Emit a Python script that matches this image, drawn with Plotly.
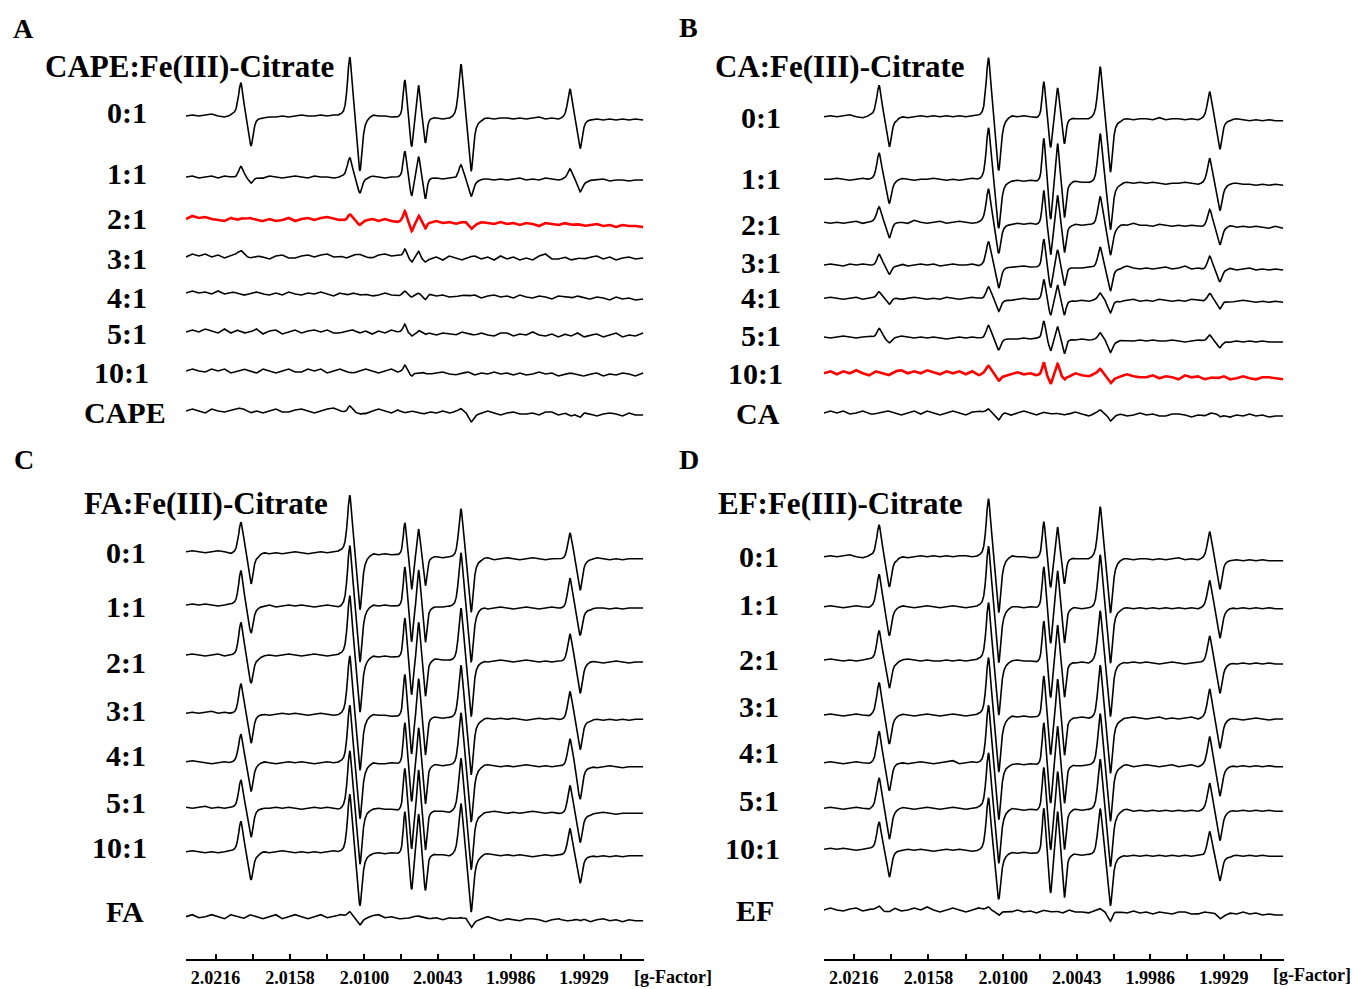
import numpy as np
import plotly.graph_objects as go

# ---------------- data ----------------
# sampling of the baseline (g-factor), left -> right
G_GRID = [2.0239, 2.0234, 2.0229, 2.0224, 2.0219, 2.0214, 2.0209, 2.0204, 2.0199, 2.0194,
          2.0189, 2.0184, 2.0179, 2.0174, 2.0169, 2.0164, 2.0159, 2.0154, 2.0149, 2.0144,
          2.0139, 2.0134, 2.0129, 2.0124, 2.0119, 2.0114, 2.0109, 2.0104, 2.0099, 2.0094,
          2.0089, 2.0084, 2.0079, 2.0074, 2.0069, 2.0064, 2.0059, 2.0054, 2.0049, 2.0044,
          2.0039, 2.0034, 2.0029, 2.0024, 2.0019, 2.0014, 2.0009, 2.0004, 1.9999, 1.9994,
          1.9989, 1.9984, 1.9979, 1.9974, 1.9969, 1.9964, 1.9959, 1.9954, 1.9949, 1.9944,
          1.9939, 1.9934, 1.9929, 1.9924, 1.9919, 1.9914, 1.9909, 1.9904, 1.9899, 1.9894,
          1.9889, 1.9883]

# six EPR lines: centre g-value and half peak-to-peak width (g units)
LINE_G = [2.01923, 2.01075, 2.00659, 2.00552, 2.00209, 1.99360]
LINE_HW = [0.00040, 0.00040, 0.00027, 0.00027, 0.00040, 0.00040]

# first-derivative line shape (offset in half-widths, normalised height)
SHAPE_U = [-3.2, -2.6, -2.2, -1.9, -1.6, -1.4, -1.25, -1.1, -1.0, -0.9, -0.75, -0.5, -0.25, 0.0,
           0.25, 0.5, 0.75, 0.9, 1.0, 1.1, 1.25, 1.45, 1.7, 2.0, 2.4, 2.9, 3.6]
SHAPE_V = [0.0, 0.03, 0.08, 0.18, 0.4, 0.62, 0.82, 0.96, 1.0, 0.97, 0.85, 0.55, 0.28, 0.0,
           -0.28, -0.55, -0.85, -0.97, -1.0, -0.96, -0.8, -0.55, -0.33, -0.18, -0.09, -0.04, 0.0]

TICK_G = [2.0216, 2.0187, 2.0158, 2.0129, 2.0100, 2.00715, 2.0043, 2.00145, 1.9986, 1.99575, 1.9929, 1.99002]
TICK_TEXT = ["2.0216", "", "2.0158", "", "2.0100", "", "2.0043", "", "1.9986", "", "1.9929", ""]

RATIOS = ["0:1", "1:1", "2:1", "3:1", "4:1", "5:1", "10:1"]

# ---- Panel A: CAPE ----
A_LABELS = RATIOS + ["CAPE"]
A_UP = [[33, 59, 36, 32, 52, 29], [11, 19, 25, 22, 15, 11], [1, 6, 9, 7, 1, 0], [4, 0, 8, 7, 0, 0],
        [0, 0, 3, 2, 0, 0], [0, 0, 7, 3, 0, 0], [0, 0, 6, 0, 0, 0], [0, 7, 0, 0, 5, 0]]
A_DN = [[30, 54, 31, 26, 54, 30], [7, 15, 19, 21, 17, 12], [0, 3, 9, 7, 6, 0], [0, 0, 5, 3, 0, 0],
        [0, 0, 2, 4, 0, 0], [0, 0, 3, 2, 0, 0], [0, 0, 4, 1, 0, 0], [0, 4, 0, 0, 9, 4]]
A_NOISE = [
    [0, 1, 0, 1, 2, 0, -1, 1, 2, -1,
     0, 0, -2, -1, -1, 0, -1, 0, 1, 0,
     0, 1, 0, 1, 1, 0, 0, -1, 0, 1,
     0, 0, -1, -1, 0, 0, 0, -1, -1, -2,
     -3, -2, -1, 0, -1, -2, -3, -2, -3, -2,
     -2, -3, -2, -3, -2, -1, -3, -2, -3, -2,
     -2, -3, -2, -3, -3, -4, -3, -4, -3, -4,
     -3, -4],
    [0, 1, -1, 0, 1, -1, 1, 0, -1, 0,
     1, 0, -1, 1, 0, -1, 0, 1, 0, -1,
     1, 0, 0, -1, 0, 1, 0, -1, 0, 1,
     0, -1, 0, 0, 1, 0, -1, -1, 0, -1,
     -2, -1, -2, -3, -2, -3, -2, -2, -3, -2,
     -3, -2, -1, -3, -2, -3, -1, -2, -3, -2,
     -3, -2, -4, -3, -3, -2, -4, -3, -3, -4,
     -3, -3],
    [0, 3, 1, 2, 0, -1, -2, 1, -1, 0,
     1, -1, -2, 0, -2, -1, 1, -2, 0, 1,
     -1, 1, 2, 0, -1, -2, -1, -3, -1, 0,
     -2, 0, -2, -3, -1, -3, -4, -2, -3, -2,
     -4, -3, -5, -4, -3, -5, -3, -4, -5, -3,
     -5, -4, -6, -4, -5, -7, -4, -5, -6, -4,
     -6, -5, -7, -6, -5, -7, -6, -8, -6, -7,
     -7, -8],
    [0, 3, 1, 3, 0, 2, -1, 1, 3, 2,
     -1, 1, 0, -2, 1, 2, -1, -1, 1, 2,
     0, 2, 3, 0, 1, -1, 2, 3, 0, -1,
     2, 3, 1, 2, 0, 0, -1, -2, -2, 0,
     -3, 1, -1, -3, 0, 1, -2, 0, -3, 1,
     -2, 0, -3, -1, -3, 1, 3, -2, -2, 0,
     -3, -1, -2, 0, 1, -2, 0, -3, -1, 0,
     -2, -1],
    [0, 2, 0, 1, -1, 2, -1, 1, 0, -2,
     -1, 1, -1, -2, 0, -2, 1, -1, -2, 0,
     -1, 1, -1, -3, 0, -2, 0, -2, -1, -3,
     -2, 0, -2, -3, -1, -2, -2, -3, -1, -3,
     -2, -4, -4, -2, -3, -2, -5, -3, -2, -4,
     -3, -5, -2, -4, -5, -3, -4, -6, -3, -4,
     -5, -3, -5, -6, -4, -5, -7, -4, -6, -5,
     -7, -6],
    [0, 2, 0, 3, 1, -1, 3, -1, 2, -1,
     0, 3, -2, 1, 2, -2, 0, 2, -1, 1,
     2, 0, 2, -1, -1, 1, 2, -1, 1, -2,
     1, -1, 2, 0, 1, -1, -2, 0, -1, -3,
     -1, -2, -3, 0, -2, -3, -1, -3, -4, -1,
     -1, -4, -2, -3, 0, -3, -4, -2, -5, -2,
     -4, -1, -5, -3, -2, -5, -3, -1, -5, -3,
     -4, -1],
    [0, 2, 0, -1, 2, 0, 2, -2, 0, 2,
     0, -2, 2, 0, -2, 0, 2, -1, -1, 2,
     0, 2, -2, 0, 2, -1, -2, 0, 2, 0,
     -2, 0, 2, -1, 0, -1, -2, -1, -3, -2,
     -1, -3, -4, -2, -1, -4, -2, -3, -1, -3,
     -2, -4, -2, -4, -3, -1, -3, -2, -5, -3,
     -2, -4, -5, -3, -2, -5, -3, -4, -2, -3,
     -5, -2],
    [0, 2, 0, -2, 2, 0, -1, 1, 3, 2,
     -2, 0, -2, 0, 2, -1, -1, 1, 2, 0,
     -2, 0, 2, 3, 0, -2, -2, 1, -2, 0,
     2, 0, -2, 1, -2, 0, -1, -3, -1, -2,
     0, -2, -1, -3, -1, -3, -2, 0, -2, -4,
     -2, -1, -3, -3, -2, -4, -1, -1, -4, -2,
     -5, -3, -1, -3, -5, -3, -2, -3, -5, -2,
     -4, -4],
]

# ---- Panel B: CA ----
B_LABELS = RATIOS + ["CA"]
B_UP = [[31, 59, 35, 30, 51, 27], [27, 52, 43, 40, 49, 26], [15, 33, 34, 30, 29, 17], [11, 23, 28, 18, 21, 13],
        [7, 12, 21, 16, 8, 7], [9, 13, 18, 13, 8, 6], [0, 8, 12, 11, 7, 0], [0, 5, 0, 0, 5, 1]]
B_DN = [[30, 53, 31, 26, 54, 30], [23, 48, 38, 36, 48, 27], [15, 30, 30, 28, 30, 18], [10, 22, 20, 18, 23, 12],
        [6, 12, 15, 14, 13, 8], [5, 11, 12, 14, 12, 6], [0, 8, 8, 4, 7, 0], [0, 7, 0, 0, 7, 3]]
B_NOISE = [
    [0, 1, 0, 1, 2, 0, -1, 1, 2, -1,
     0, -1, 0, -1, 0, 1, 0, 1, 0, 1,
     0, 1, 0, 1, 1, 0, 0, -1, 0, 1,
     0, 1, 0, -1, 0, 0, 0, -1, -1, -2,
     -2, -2, -1, -1, -2, -1, -3, -2, -3, -2,
     -2, -3, -1, -3, -2, -2, -3, -2, -3, -2,
     -2, -3, -2, -3, -2, -3, -4, -3, -4, -3,
     -4, -4],
    [0, 0, 1, 0, -1, 0, 1, 0, 0, -1,
     -1, 0, 1, 0, -1, 0, 0, 1, 0, -1,
     0, -1, 0, 1, 0, -1, 0, -1, -1, -2,
     -1, -2, -1, -2, -2, -2, -3, -2, -3, -2,
     -3, -3, -4, -3, -2, -3, -4, -3, -4, -3,
     -4, -3, -4, -5, -4, -4, -3, -4, -5, -4,
     -5, -4, -5, -4, -4, -5, -5, -6, -5, -6,
     -5, -6],
    [0, -1, 0, -1, 0, 1, -1, 0, 1, 0,
     -1, 1, 0, -1, 2, 0, -1, 0, 1, -1,
     0, 1, 0, -1, 0, 1, 0, -1, -1, -2,
     -1, -2, -1, -2, -2, -3, -2, -2, -3, -2,
     -3, -2, -3, -3, -2, -4, -2, -3, -1, -3,
     -3, -4, -2, -3, -4, -3, -4, -3, -4, -5,
     -4, -5, -4, -3, -5, -4, -5, -4, -5, -6,
     -4, -6],
    [0, 1, 0, -1, 1, 0, 1, 0, -1, 0,
     1, 0, 1, -1, 0, 1, 0, 1, -1, 0,
     1, 0, 0, 1, -1, 0, 1, -1, -1, -2,
     -1, -1, -2, -2, -2, -3, -2, -3, -2, -3,
     -3, -2, -3, -3, -4, -2, -3, -1, -3, -4,
     -3, -4, -3, -2, -4, -3, -1, -4, -3, -5,
     -4, -5, -4, -3, -5, -4, -3, -5, -4, -5,
     -4, -5],
    [0, 1, 0, -1, 0, 1, -1, 0, 0, -1,
     0, 1, -1, 0, 1, 0, -1, 0, -1, 1,
     0, -1, 0, 1, 0, -1, 0, -1, -1, -2,
     -1, 0, -1, -1, -2, -2, -2, -3, -2, -3,
     -2, -3, -2, -3, -2, -1, -3, -2, -1, -3,
     -2, -3, -1, -2, -3, -2, -3, -1, -2, -3,
     -2, -3, -2, -4, -3, -2, -3, -4, -3, -4,
     -3, -4],
    [0, -1, 0, 1, 0, -1, 0, 1, -1, 0,
     -1, 0, 1, 0, -1, 0, -1, 0, -1, -2,
     -1, 0, -1, 0, -1, -2, -1, -2, -1, -2,
     -2, -1, -2, -1, -2, -2, -2, -3, -2, -3,
     -2, -3, -3, -4, -3, -4, -3, -4, -4, -3,
     -4, -3, -4, -4, -3, -4, -5, -4, -3, -4,
     -4, -5, -4, -5, -4, -5, -4, -5, -4, -5,
     -5, -5],
    [0, 2, -1, 2, 0, 3, 0, -2, 2, 0,
     -2, 2, 3, 0, 2, 0, 3, 1, -1, 2,
     0, 2, -1, 2, -2, 0, -1, 1, -2, -1,
     1, -1, 0, -2, -1, -3, -1, -2, -3, 0,
     -2, -3, -1, -3, -2, -4, -3, -1, -3, -4,
     -4, -2, -5, -3, -4, -6, -2, -4, -3, -6,
     -4, -5, -3, -6, -5, -3, -5, -6, -4, -4,
     -5, -6],
    [0, 2, 0, 2, -1, 0, 2, -1, -1, 1,
     2, 0, -2, 0, 2, -1, 2, 0, -2, 0,
     2, 0, -2, 1, 2, 0, -2, 0, 1, -2,
     0, 2, 0, -2, 1, -1, 0, -2, -1, 1,
     -1, -3, -1, -2, 0, -2, -1, -3, -2, 0,
     -2, -1, -3, -3, -1, -1, -2, -4, -2, -3,
     -1, 0, -2, -4, -2, -3, -1, -3, -2, -4,
     -3, -3],
]

# ---- Panel C: FA ----
C_LABELS = RATIOS + ["FA"]
C_UP = [[30, 57, 32, 28, 49, 26], [35, 60, 40, 38, 55, 30], [33, 60, 40, 38, 52, 28], [30, 58, 41, 40, 53, 28],
        [28, 58, 42, 38, 52, 27], [29, 57, 41, 42, 54, 28], [31, 58, 42, 42, 52, 28], [1, 6, 0, 0, 2, 0]]
C_DN = [[32, 56, 34, 29, 54, 31], [28, 56, 36, 36, 55, 28], [27, 56, 37, 37, 56, 32], [29, 56, 38, 38, 56, 31],
        [28, 56, 38, 40, 56, 33], [29, 56, 39, 39, 58, 30], [28, 53, 36, 36, 57, 28], [0, 8, 0, 0, 9, 2]]
C_NOISE = [
    [0, 1, 0, -1, 0, 1, 0, -2, -1, 0,
     0, -2, -1, -2, -1, -2, -1, 0, -1, -2,
     -1, 0, -1, 0, 1, 0, -1, -2, -3, -2,
     -3, -2, -3, -3, -3, -4, -4, -5, -5, -5,
     -6, -5, -6, -6, -7, -6, -7, -6, -8, -7,
     -6, -7, -8, -7, -6, -7, -8, -7, -7, -8,
     -7, -8, -7, -7, -6, -7, -8, -7, -8, -7,
     -7, -7],
    [0, 1, 0, 1, 0, -1, 0, 1, 0, -1,
     0, -1, -1, 0, -2, -1, 0, -1, 0, -1,
     -2, -1, 0, -1, -2, -1, 0, -1, -1, 0,
     -1, 0, -1, -1, -2, -1, -2, -1, -2, -2,
     -2, -1, -2, -3, -2, -3, -2, -4, -3, -2,
     -3, -4, -3, -2, -3, -4, -3, -2, -3, -4,
     -3, -2, -3, -4, -3, -3, -4, -3, -4, -3,
     -3, -3],
    [0, 1, 0, -1, 0, 1, -1, 0, -1, 0,
     -1, -2, -1, 0, -1, 0, 1, 0, -1, 0,
     1, 0, -1, 0, 1, 0, -1, -1, -2, -1,
     -2, -1, -2, -2, -3, -3, -4, -4, -5, -4,
     -5, -5, -6, -5, -6, -5, -6, -7, -6, -5,
     -6, -7, -6, -5, -6, -7, -6, -7, -6, -7,
     -7, -6, -7, -6, -7, -8, -7, -6, -7, -8,
     -7, -7],
    [0, 1, 0, 1, 2, 0, 1, 0, -1, 0,
     -1, 0, -1, -2, -1, 0, -1, 0, -1, -2,
     -1, 0, -1, -2, -1, 0, -1, -1, -2, -1,
     -2, -2, -3, -3, -2, -3, -4, -4, -3, -4,
     -5, -4, -5, -5, -6, -5, -6, -5, -6, -5,
     -6, -5, -6, -7, -6, -5, -6, -5, -6, -7,
     -6, -5, -6, -7, -6, -7, -6, -7, -6, -7,
     -6, -6],
    [0, 1, 0, -1, -2, -1, 0, -1, 0, -1,
     -2, -1, 0, -1, -2, -1, 0, -1, 0, -1,
     -2, -1, 0, -1, 0, -1, -2, -1, -2, -1,
     -2, -2, -1, -2, -3, -2, -3, -2, -3, -3,
     -4, -3, -4, -3, -4, -5, -4, -3, -4, -5,
     -4, -5, -4, -3, -4, -5, -4, -5, -4, -5,
     -4, -5, -4, -5, -6, -5, -4, -5, -6, -5,
     -5, -5],
    [0, -1, 0, 1, -1, 0, -1, 0, -1, -2,
     -1, 0, -1, -1, 0, -1, 0, -1, -2, -1,
     0, -1, 0, -1, -2, -1, 0, -1, -1, -2,
     -1, -2, -2, -3, -2, -3, -3, -4, -3, -4,
     -4, -5, -4, -5, -4, -5, -6, -5, -4, -5,
     -6, -5, -6, -5, -4, -5, -6, -5, -6, -7,
     -6, -5, -6, -7, -6, -5, -6, -7, -6, -6,
     -6, -6],
    [0, 1, 0, -1, 0, -1, 0, 1, 0, -1,
     0, -1, 0, -1, 0, 1, 0, -1, 0, -1,
     0, -1, 0, 1, 0, -1, 0, -1, -1, -2,
     -1, -2, -1, -2, -2, -2, -3, -3, -2, -3,
     -3, -4, -3, -4, -3, -4, -3, -2, -3, -4,
     -3, -4, -3, -4, -5, -4, -3, -4, -3, -4,
     -5, -4, -3, -4, -5, -4, -5, -4, -5, -4,
     -4, -4],
    [0, 2, -1, 0, 2, 0, -2, 2, 0, -2,
     2, 0, -2, 0, 2, -2, 0, 2, 0, -2,
     0, 2, -1, 0, 2, 0, -2, 0, -1, 1,
     2, -1, 0, -2, -2, -1, 1, -1, -2, -1,
     -3, -1, -2, -3, -1, -3, -2, 0, -2, -4,
     -2, -3, -4, -2, -2, -3, -5, -3, -2, -4,
     -4, -2, -2, -5, -3, -2, -4, -3, -5, -3,
     -4, -4],
]

# ---- Panel D: EF ----
D_LABELS = RATIOS + ["EF"]
D_UP = [[32, 58, 35, 31, 51, 27], [32, 60, 40, 38, 53, 28], [30, 58, 40, 38, 52, 28], [32, 58, 42, 40, 53, 30],
        [32, 58, 42, 40, 53, 30], [30, 56, 42, 40, 52, 28], [28, 54, 46, 44, 46, 24], [5, 4, 0, 0, 4, 1]]
D_DN = [[30, 55, 31, 26, 54, 30], [28, 56, 36, 36, 55, 30], [28, 55, 36, 36, 55, 30], [28, 56, 38, 38, 56, 30],
        [28, 56, 38, 38, 56, 30], [30, 55, 40, 40, 56, 30], [27, 48, 40, 44, 51, 25], [2, 6, 0, 0, 10, 5]]
D_NOISE = [
    [0, 1, 0, 1, 2, 0, -1, 1, 1, -1,
     0, -1, 0, -1, 0, 1, 0, 1, 0, 1,
     0, 1, 1, 0, 1, 0, 0, -1, 0, 1,
     0, 0, -1, -1, 0, 0, 0, -1, -1, -2,
     -2, -2, -1, -1, -2, -3, -2, -2, -3, -2,
     -2, -3, -2, -3, -2, -1, -3, -2, -3, -2,
     -2, -3, -2, -3, -3, -4, -3, -4, -3, -4,
     -4, -4],
    [0, 1, 0, -1, 0, 1, 0, -1, 1, 0,
     -1, 0, 1, 0, -1, 0, 1, 0, -1, 0,
     1, 0, -1, 0, 1, 0, 1, 0, -1, 0,
     0, -1, 0, -1, 0, -1, -1, 0, -1, -1,
     -2, -1, -2, -1, -2, -1, -2, -1, -2, -1,
     -2, -1, -2, -1, -2, -1, -2, -1, -2, -1,
     -2, -1, -2, -1, -2, -1, -2, -1, -2, -1,
     -2, -2],
    [0, 1, 0, -1, 0, -1, 0, 1, 0, -1,
     0, -1, 0, 1, 0, -1, 0, -1, -1, 0,
     -1, 0, -1, 0, 1, 0, -1, 0, -1, -1,
     0, -1, -1, -2, -1, -2, -2, -1, -2, -3,
     -2, -3, -2, -3, -2, -1, -2, -3, -2, -3,
     -2, -3, -4, -3, -2, -3, -4, -3, -2, -3,
     -4, -3, -4, -3, -4, -3, -4, -3, -4, -3,
     -4, -4],
    [0, 1, 0, -1, 0, 1, 0, -1, 1, 0,
     -1, 0, 1, 0, -1, 0, 1, 0, -1, 0,
     1, 0, -1, 0, 1, 0, -1, -1, -2, -1,
     -2, -1, -2, -2, -3, -2, -3, -2, -3, -3,
     -2, -3, -4, -3, -2, -3, -4, -3, -2, -3,
     -4, -3, -2, -4, -3, -4, -3, -2, -4, -3,
     -4, -3, -4, -3, -4, -5, -4, -3, -4, -5,
     -4, -4],
    [0, 1, 0, -1, 0, 1, 0, -1, 0, -1,
     0, 1, 0, -1, 0, 1, 0, -1, 0, 1,
     2, -1, 0, 1, 0, -1, 0, -1, -1, -2,
     -1, -2, -1, -2, -2, -3, -2, -3, -2, -3,
     -3, -2, -3, -4, -3, -2, -3, -2, -4, -3,
     -2, -3, -4, -3, -2, -4, -3, -2, -4, -3,
     -4, -3, -4, -3, -4, -3, -4, -3, -4, -3,
     -4, -4],
    [0, 1, 0, -1, 0, 1, 0, -1, 1, 0,
     -1, 0, 1, 0, -1, 0, 1, 0, -1, 0,
     1, 0, -1, 0, 1, 0, -1, 0, -1, 0,
     -1, -2, -1, -2, -1, -2, -2, -1, -2, -1,
     -2, -1, -2, -3, -2, -3, -2, -1, -3, -2,
     -3, -2, -3, -2, -3, -2, -3, -2, -3, -2,
     -3, -2, -3, -2, -3, -2, -3, -2, -3, -2,
     -3, -3],
    [0, 1, 0, 1, 0, -1, 0, 1, 0, -1,
     -1, 0, -1, 0, -1, 0, -1, -2, -1, 0,
     -1, 0, -1, -2, -1, -2, -3, -2, -3, -3,
     -4, -3, -4, -4, -5, -4, -5, -4, -5, -5,
     -6, -5, -6, -5, -6, -5, -6, -7, -6, -7,
     -6, -7, -6, -7, -6, -7, -6, -7, -6, -7,
     -6, -7, -6, -7, -6, -7, -6, -7, -6, -7,
     -7, -7],
    [0, 2, 0, -1, 1, 2, -1, 1, 0, -2,
     0, 2, -1, 0, 2, 0, 3, 0, -2, 0,
     2, 0, -2, 0, 2, 0, -2, 1, -1, -2,
     0, -2, -1, -3, 0, -2, -1, -3, 0, -2,
     -2, -3, -1, -3, -2, 0, -2, -3, -1, -3,
     -2, -4, -2, -3, -4, -2, -2, -4, -4, -2,
     -4, -3, -5, -3, -4, -2, -4, -3, -5, -4,
     -5, -5],
]

# ---------------- layout constants (pixels of the 1354 x 989 page) ----------------
W, H = 1354, 989
AXIS_Y = 959                     # bottom of plotting area = x-axis line
FONT = "Liberation Serif"

PANELS = [
    dict(labels=A_LABELS, up=A_UP, dn=A_DN, noise=A_NOISE, xaxis="x", red=2,
         base=[116, 177, 219, 257, 293, 332, 371, 411],
         lab_x=[127, 127, 127, 127, 127, 127, 121, 125],
         lab_y=[112, 173.5, 218.5, 258.5, 297.5, 333.5, 372.5, 412.5],
         title="CAPE:Fe(III)-Citrate", title_xy=(190, 66), letter="A", letter_xy=(23, 28)),
    dict(labels=B_LABELS, up=B_UP, dn=B_DN, noise=B_NOISE, xaxis="x2", red=6,
         base=[116.7, 179.3, 222.3, 265, 298.3, 337, 373.3, 413],
         lab_x=[761, 761, 761, 761, 761, 761, 755, 757.5],
         lab_y=[117, 178.5, 224, 262, 297, 335, 373.5, 413.5],
         title="CA:Fe(III)-Citrate", title_xy=(840, 66), letter="B", letter_xy=(689, 27)),
    dict(labels=C_LABELS, up=C_UP, dn=C_DN, noise=C_NOISE, xaxis="x", red=None,
         base=[551.7, 605, 655, 713.3, 761.7, 807.3, 851.7, 916.7],
         lab_x=[126, 126, 126, 126, 126, 126, 119.5, 125],
         lab_y=[552, 606, 662, 710.5, 755, 802.5, 847, 911.5],
         title="FA:Fe(III)-Citrate", title_xy=(206, 503), letter="C", letter_xy=(24, 459)),
    dict(labels=D_LABELS, up=D_UP, dn=D_DN, noise=D_NOISE, xaxis="x2", red=None,
         base=[556.7, 606.7, 660, 715, 762.7, 808.3, 849.3, 910],
         lab_x=[759, 759, 759, 759, 759, 759, 752.5, 755],
         lab_y=[556.5, 604.5, 659.5, 706.5, 752.5, 800.5, 848, 910.5],
         title="EF:Fe(III)-Citrate", title_xy=(840, 503), letter="D", letter_xy=(689, 459)),
]


def spectrum(up, dn, noise):
    g = np.array(G_GRID, dtype=float)
    su = np.array(SHAPE_U, dtype=float)
    sv = np.array(SHAPE_V, dtype=float)
    pts = [g] + [c - su * hw for c, hw in zip(LINE_G, LINE_HW)]
    xs = np.unique(np.concatenate(pts))[::-1]
    y = np.interp(xs, g[::-1], np.array(noise, dtype=float)[::-1])
    for c, hw, a, b in zip(LINE_G, LINE_HW, up, dn):
        t = np.interp((c - xs) / hw, su, sv, left=0.0, right=0.0)
        y = y + np.where(t > 0, a * t, b * t)
    return xs, y


fig = go.Figure()
annotations = []

for p in PANELS:
    for i, lab in enumerate(p["labels"]):
        assert len(p["noise"][i]) == len(G_GRID), (lab, len(p["noise"][i]))
        xs, sig = spectrum(p["up"][i], p["dn"][i], p["noise"][i])
        is_red = (p["red"] == i)
        fig.add_trace(go.Scatter(
            x=xs, y=p["base"][i] - sig, mode="lines", xaxis=p["xaxis"], yaxis="y",
            line=dict(color="#ff0000" if is_red else "#000000", width=2.6 if is_red else 1.6),
            hoverinfo="skip", showlegend=False))
        annotations.append(dict(
            text=lab, x=p["lab_x"][i] / W, xref="paper", y=p["lab_y"][i], yref="y",
            xanchor="center", yanchor="middle", showarrow=False,
            font=dict(family=FONT, size=30, color="black", weight="bold")))
    annotations.append(dict(
        text=p["title"], x=p["title_xy"][0] / W, xref="paper", y=p["title_xy"][1], yref="y",
        xanchor="center", yanchor="middle", showarrow=False,
        font=dict(family=FONT, size=31, color="black", weight="bold")))
    annotations.append(dict(
        text=p["letter"], x=p["letter_xy"][0] / W, xref="paper", y=p["letter_xy"][1], yref="y",
        xanchor="center", yanchor="middle", showarrow=False,
        font=dict(family=FONT, size=28, color="black", weight="bold")))

for gx, gy in [(673, 977), (1312, 975)]:
    annotations.append(dict(
        text="[g-Factor]", x=gx / W, xref="paper", y=(AXIS_Y - gy) / AXIS_Y, yref="paper",
        xanchor="center", yanchor="middle", showarrow=False,
        font=dict(family=FONT, size=18, color="black", weight="bold")))

xaxis_common = dict(
    range=[2.0239, 1.98823], anchor="y", showline=True, linecolor="black", linewidth=1.6,
    ticks="inside", ticklen=5, tickwidth=1.5, tickcolor="black",
    tickmode="array", tickvals=TICK_G, ticktext=TICK_TEXT, ticklabelstandoff=2,
    tickfont=dict(family=FONT, size=18, color="black", weight="bold"),
    showgrid=False, zeroline=False, fixedrange=True, automargin=False)

fig.update_layout(
    width=W, height=H,
    margin=dict(l=0, r=0, t=0, b=H - AXIS_Y, autoexpand=False),
    paper_bgcolor="white", plot_bgcolor="white",
    showlegend=False,
    xaxis=dict(domain=[186 / W, 644 / W], **xaxis_common),
    xaxis2=dict(domain=[824 / W, 1284 / W], **xaxis_common),
    yaxis=dict(range=[AXIS_Y, 0], visible=False, fixedrange=True, domain=[0, 1]),
    annotations=annotations,
)

fig.write_html("out.html")
